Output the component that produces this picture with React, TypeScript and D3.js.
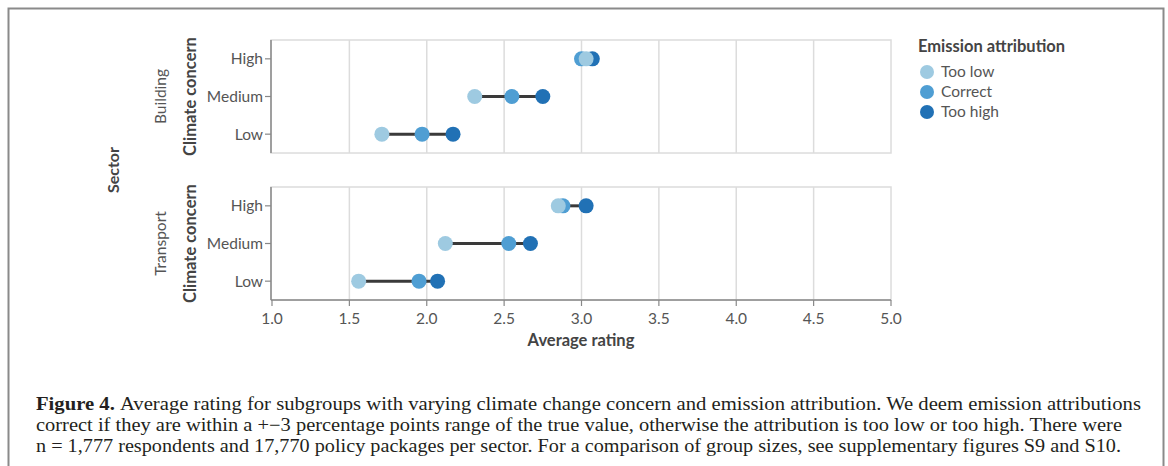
import { scaleLinear, scalePoint, min, max } from 'd3'

const sectors = ['Building', 'Transport']
const concernLevels = ['High', 'Medium', 'Low']
const attributions = ['Too low', 'Correct', 'Too high']
const attributionColors = ['#9ecae1', '#4f9ed3', '#2171b5']
const xTicks = [1.0, 1.5, 2.0, 2.5, 3.0, 3.5, 4.0, 4.5, 5.0]

// rows: High, Medium, Low ; columns: Too low, Correct, Too high
const buildingValues = [
  [3.03, 3.0, 3.07],
  [2.31, 2.55, 2.75],
  [1.71, 1.97, 2.17],
]
const transportValues = [
  [2.85, 2.88, 3.03],
  [2.12, 2.53, 2.67],
  [1.56, 1.95, 2.07],
]

const captionLines = [
  'Average rating for subgroups with varying climate change concern and emission attribution. We deem emission attributions',
  'correct if they are within a +\u22123 percentage points range of the true value, otherwise the attribution is too low or too high. There were',
  'n = 1,777 respondents and 17,770 policy packages per sector. For a comparison of group sizes, see supplementary figures S9 and S10.',
]

const dims = {
  width: 1168,
  height: 466,
  left: 271,
  right: 891,
  panelHeight: 113,
  panelTops: [40, 187],
}

const App = () => {
  const x = scaleLinear().domain([1, 5]).range([dims.left + 1, dims.right])
  const y = scalePoint().domain(concernLevels).range([0, dims.panelHeight]).padding(0.5)
  const sectorData = [buildingValues, transportValues]
  const font = 'Lato, "Open Sans", sans-serif'
  const axisBottomY = dims.panelTops[1] + dims.panelHeight

  return (
    <svg width={dims.width} height={dims.height} style={{ position: 'absolute', left: 0, top: 0 }}>
      <rect width={dims.width} height={dims.height} fill='#fff' />
      <rect x={8.5} y={8.5} width={1155} height={480} fill='none' stroke='#8a8a8a' strokeWidth={2} />

      <text transform={`translate(119, 170) rotate(-90)`} textAnchor='middle' fontFamily={font}
        fontWeight='bold' fontSize={16} fill='#444'>Sector</text>

      {sectors.map((sector, si) => {
        const top = dims.panelTops[si]
        const values = sectorData[si]
        return (
          <g key={sector}>
            <rect x={dims.left} y={top} width={dims.right - dims.left} height={dims.panelHeight}
              fill='#fff' stroke='#dcdcdc' strokeWidth={1.5} />
            {xTicks.slice(1, -1).map(t => (
              <line key={t} x1={x(t)} x2={x(t)} y1={top} y2={top + dims.panelHeight}
                stroke='#dcdcdc' strokeWidth={1.5} />
            ))}
            <line x1={dims.left} x2={dims.left} y1={top} y2={top + dims.panelHeight}
              stroke='#888' strokeWidth={1.5} />
            {concernLevels.map(level => (
              <g key={level} transform={`translate(0, ${top + y(level)!})`}>
                <line x1={dims.left - 6} x2={dims.left} stroke='#888' strokeWidth={1.2} />
                <text x={dims.left - 8} dy='0.35em' textAnchor='end' fontFamily={font}
                  fontSize={15.5} fill='#555'>{level}</text>
              </g>
            ))}
            <text transform={`translate(196, ${top + dims.panelHeight / 2}) rotate(-90)`}
              textAnchor='middle' fontFamily={font} fontWeight='bold' fontSize={16.5} fill='#444'>
              Climate concern
            </text>
            <text transform={`translate(166, ${top + dims.panelHeight / 2}) rotate(-90)`}
              textAnchor='middle' fontFamily={font} fontSize={15.5} fill='#555'>{sector}</text>

            {concernLevels.map((level, li) => {
              const row = values[li]
              const cy = top + y(level)!
              return (
                <g key={level}>
                  <line x1={x(min(row)!)} x2={x(max(row)!)} y1={cy} y2={cy}
                    stroke='#3a3a3a' strokeWidth={3} />
                  {row.map((v, ai) => ai).reverse().map(ai => (
                    <circle key={ai} cx={x(row[ai])} cy={cy} r={7.5} fill={attributionColors[ai]} />
                  ))}
                </g>
              )
            })}
          </g>
        )
      })}

      <line x1={dims.left} x2={dims.right} y1={axisBottomY} y2={axisBottomY} stroke='#888' strokeWidth={1.5} />
      {xTicks.map(t => (
        <g key={t} transform={`translate(${x(t)}, ${axisBottomY})`}>
          <line y2={6} stroke='#888' strokeWidth={1.2} />
          <text y={24} textAnchor='middle' fontFamily={font} fontSize={15.5} fill='#555'>{t.toFixed(1)}</text>
        </g>
      ))}
      <text x={(dims.left + dims.right) / 2} y={346} textAnchor='middle' fontFamily={font}
        fontWeight='bold' fontSize={16.5} fill='#444'>Average rating</text>

      <text x={918} y={52} fontFamily={font} fontWeight='bold' fontSize={16.5} fill='#444'>Emission attribution</text>
      {attributions.map((a, i) => (
        <g key={a} transform={`translate(927, ${72 + i * 20})`}>
          <circle r={7} fill={attributionColors[i]} />
          <text x={14} dy='0.35em' fontFamily={font} fontSize={15.5} fill='#555'>{a}</text>
        </g>
      ))}

      {captionLines.map((line, i) => (
        <text key={i} x={36} y={410 + i * 21} fontFamily='"Liberation Serif", "Times New Roman", serif' fontSize={18}
          fill='#231f20' textLength={[1105, 1086, 1085][i]} lengthAdjust='spacingAndGlyphs'>
          {i === 0 && <tspan fontWeight='bold'>Figure 4. </tspan>}
          {line}
        </text>
      ))}
    </svg>
  )
}

export default App
